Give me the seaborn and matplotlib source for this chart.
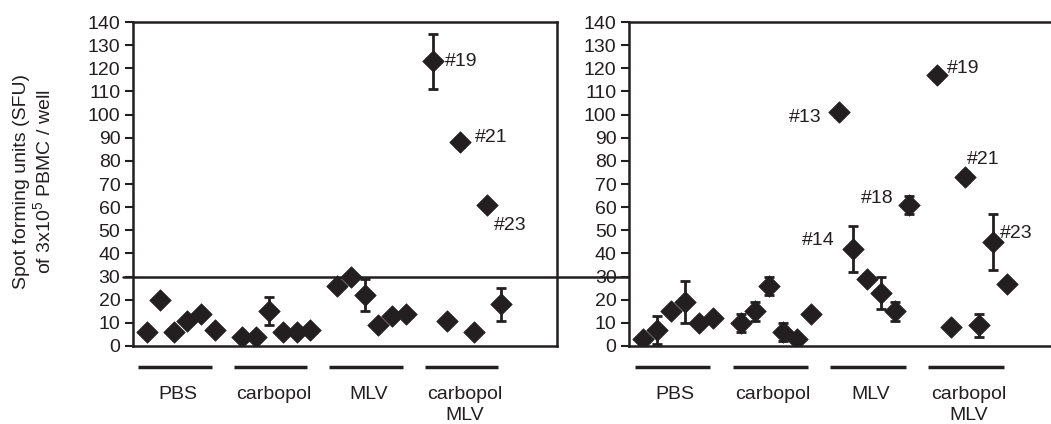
import matplotlib
matplotlib.use('Agg')
import matplotlib.pyplot as plt
import numpy as np
import pandas as pd
import seaborn as sns

groups = ['PBS', 'carbopol', 'MLV', 'carbopol\nMLV']

# left panel: values and error (0 = no bar), 6 animals per group
left_vals = [6, 20, 6, 11, 14, 7,
             4, 4, 15, 6, 6, 7,
             26, 30, 22, 9, 13, 14,
             123, 11, 88, 6, 61, 18]
left_err = [0, 0, 0, 0, 0, 0,
            0, 0, 6, 0, 0, 0,
            0, 0, 7, 0, 0, 0,
            12, 0, 2, 0, 0, 7]

# right panel
right_vals = [3, 7, 15, 19, 10, 12,
              10, 15, 26, 6, 3, 14,
              101, 42, 29, 23, 15, 61,
              117, 8, 73, 9, 45, 27]
right_err = [0, 6, 0, 9, 0, 0,
             4, 4, 4, 4, 0, 0,
             2, 10, 0, 7, 4, 4,
             2, 0, 2, 5, 12, 0]

threshold = 30

# animal labels: index in series -> (text, dx px, dy px, ha)
left_notes = {18: ('#19', 12, 0, 'left'),
              20: ('#21', 15, 5, 'left'),
              22: ('#23', 6, -21, 'left')}
right_notes = {12: ('#13', -17, -5, 'right'),
               13: ('#14', -18, 8, 'right'),
               17: ('#18', -15, 6, 'right'),
               18: ('#19', 10, 7, 'left'),
               20: ('#21', 2, 18, 'left'),
               22: ('#23', 7, 8, 'left')}

sns.set_style('ticks')
plt.rcParams['font.family'] = ['Liberation Sans', 'DejaVu Sans']
plt.rcParams['mathtext.fontset'] = 'custom'
plt.rcParams['mathtext.rm'] = 'Liberation Sans'
plt.rcParams['mathtext.default'] = 'regular'
ink = '#231f20'
fs = 14

n_per = 6
xpos = [g * (n_per + 1) + i + 1 for g in range(len(groups)) for i in range(n_per)]

fig = plt.figure(figsize=(10.51, 4.24), dpi=100)
ax1 = fig.add_axes([0.1265, 0.184, 0.4035, 0.764])
ax2 = fig.add_axes([0.5985, 0.184, 0.414, 0.764])


def draw_panel(ax, vals, errs, notes, full_box):
    df = pd.DataFrame({'x': xpos, 'y': vals, 'err': errs})
    ebar = df[df['err'] > 0]
    ax.errorbar(ebar['x'], ebar['y'], yerr=ebar['err'], fmt='none',
                ecolor=ink, elinewidth=2, capsize=3.5, capthick=2, zorder=2)
    sns.scatterplot(data=df, x='x', y='y', marker='D', s=120, color=ink,
                    edgecolor=ink, linewidth=0.5, ax=ax, zorder=3, legend=False)
    for idx, (txt, dx, dy, ha) in notes.items():
        ax.annotate(txt, (xpos[idx], vals[idx]), xytext=(dx, dy),
                    textcoords='offset pixels', ha=ha, va='center',
                    fontsize=fs, color=ink)
    ax.set_xlim(0, 31.1)
    ax.set_ylim(0, 140)
    ax.set_yticks(range(0, 141, 10))
    ax.set_xticks([])
    ax.set_xlabel('')
    ax.set_ylabel('')
    ax.tick_params(axis='y', labelsize=fs, colors=ink, length=6, width=1.5, pad=3)
    for s in ax.spines.values():
        s.set_color(ink)
        s.set_linewidth(1.8)
    ax.spines['right'].set_visible(full_box)
    # group bars and names under the axis
    trans = ax.get_xaxis_transform()
    for g, name in enumerate(groups):
        c = g * (n_per + 1) + (n_per + 1) / 2 - 0.4
        ax.plot([c - 2.7, c + 2.7], [-0.065, -0.065], color=ink, lw=2.5,
                transform=trans, clip_on=False, solid_capstyle='butt')
        ax.text(c + 0.2, -0.122, name, transform=trans, ha='center', va='top',
                fontsize=fs, color=ink, linespacing=1.35)


draw_panel(ax1, left_vals, left_err, left_notes, True)
draw_panel(ax2, right_vals, right_err, right_notes, False)

# threshold runs across both panels
ax1.axhline(threshold, xmin=-0.024, xmax=2.2, color=ink, lw=1.8, clip_on=False, zorder=1)

fig.text(0.032, 0.571, 'Spot forming units (SFU)\nof 3x10$^{5}$ PBMC / well',
         rotation=90, ha='center', va='center', fontsize=fs, color=ink,
         linespacing=1.15, multialignment='center')

fig.savefig('out.png', dpi=100)
